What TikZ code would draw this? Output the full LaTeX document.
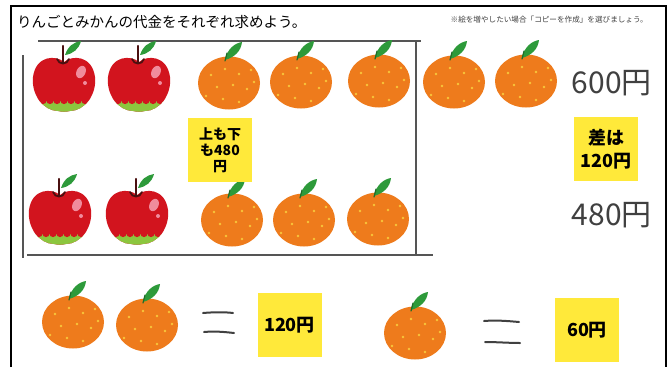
\documentclass[tikz,border=0pt]{standalone}
\usepackage{fontspec}
\newfontfamily\jp{Noto Sans CJK JP}
\definecolor{applered}{HTML}{D2141E}
\definecolor{applegreen}{HTML}{8CC63E}
\definecolor{stembrown}{HTML}{4A1010}
\definecolor{leafgreen}{HTML}{2D9A3A}
\definecolor{leafdark}{HTML}{1E6B28}
\definecolor{mikan}{HTML}{EE7B1C}
\definecolor{mikandot}{HTML}{F9C53A}
\definecolor{memo}{HTML}{FFE93A}
\definecolor{rulegray}{HTML}{555555}
\definecolor{ink}{HTML}{404040}
\definecolor{shine}{HTML}{F08C9C}
\tikzset{
  frame/.style={line width=2.5pt, black},
  tableline/.style={line width=2pt, rulegray},
  eqstroke/.style={line width=2pt, ink, line cap=round},
  memo/.style={fill=memo, inner sep=0pt, minimum width=64pt, minimum height=64pt,
    align=center, text=black},
  bigprice/.style={font=\jp\fontsize{30}{30}\selectfont, text=ink, anchor=east, inner sep=0pt},
  apple/.pic={
    \begin{scope}
      \path[clip] (0,-21) .. controls (-8,-28) and (-28,-28) .. (-31,-6)
        .. controls (-33,12) and (-20,28) .. (-6,28)
        .. controls (-2,29) and (2,29) .. (6,28)
        .. controls (20,28) and (33,12) .. (31,-6)
        .. controls (28,-28) and (8,-28) .. (0,-21) -- cycle;
      \fill[applered] (-35,-35) rectangle (35,35);
      \fill[applegreen] (-35,18) rectangle (35,35);
      \foreach \i in {-28,-21,...,28} \fill[applered] (\i,17.5) circle (3.6pt);
    \end{scope}
    \fill[shine, rotate around={-25:(17,-11)}] (17,-11) ellipse [x radius=4.5pt, y radius=6.5pt];
    \fill[shine] (21,0) circle (2pt);
    \fill[leafgreen] (1,-28) .. controls (4,-37) and (10,-41) .. (17,-42)
      .. controls (15,-34) and (9,-29) .. (1,-28) -- cycle;
    \draw[stembrown, line width=2.2pt, line cap=round] (-1,-37) -- (-1,-20);
    \draw[stembrown, line width=1.8pt, line cap=round] (-7,-24) .. controls (-5,-18) and (3,-18) .. (5,-24);
  },
  mikan/.pic={
    \fill[mikan] (0,0) ellipse [x radius=31pt, y radius=26.5pt];
    \foreach \a/\b in {-18/-8, -4/-14, 10/-9, 22/-13, -12/4, 4/2, 18/6, -23/13, -6/16, 10/19, 25/-1}
      \fill[mikandot] (\a,\b) circle (1.3pt);
    \fill[leafgreen] (-4,-23) .. controls (-2,-34) and (6,-40) .. (13,-41)
      .. controls (12,-32) and (6,-26) .. (-4,-23) -- cycle;
    \draw[leafdark, line width=1.2pt, line cap=round] (-4,-22) -- (-2,-30);
  }
}
\begin{document}
\begin{tikzpicture}[x=1pt, y=-1pt]
  \useasboundingbox[fill=white] (0,0) rectangle (671,367);

  % outer sheet border, open at the bottom
  \draw[frame] (11,367) -- (11,6) -- (666,6) -- (666,367);

  % heading and hint
  \node[anchor=west, inner sep=0pt, text=black, font=\jp\fontsize{14.5}{14.5}\selectfont] (title) at (17,22)
    {りんごとみかんの代金をそれぞれ求めよう。};
  \node[anchor=east, inner sep=0pt, text=ink, font=\jp\fontsize{7.6}{8}\selectfont] (hint) at (648,20)
    {※絵を増やしたい場合「コピーを作成」を選びましょう。};

  % table frame around the two rows
  \draw[tableline] (38,41) -- (421,41);
  \draw[tableline] (416,41) -- (416,255);
  \draw[tableline] (27,255) -- (433,255);
  \draw[tableline] (23,55) -- (23,258);

  % upper row: 2 apples + 5 mikans
  \pic at (64,83) {apple};
  \pic at (139,83) {apple};
  \pic at (229,83) {mikan};
  \pic at (301,82) {mikan};
  \pic at (379,81) {mikan};
  \pic at (454,82) {mikan};
  \pic at (526,81) {mikan};

  % lower row: 2 apples + 3 mikans
  \pic at (60,216) {apple};
  \pic at (137,216) {apple};
  \pic at (232,220) {mikan};
  \pic at (304,220) {mikan};
  \pic at (378,219) {mikan};

  % totals
  \node[bigprice] (top) at (652,83) {600円};
  \node[bigprice] (bottom) at (652,215) {480円};

  % sticky notes
  \node[memo, font=\jp\bfseries\fontsize{14}{16}\selectfont] (same) at (220,150) {上も下\\も480\\円};
  \node[memo, font=\jp\bfseries\fontsize{18}{23}\selectfont] (diff) at (606,149) {差は\\120円};

  % answers
  \pic at (73,322) {mikan};
  \pic at (147,325) {mikan};
  \draw[eqstroke] (203,313) .. controls (215,312) and (225,312) .. (233,313);
  \draw[eqstroke] (204,332) .. controls (215,331) and (225,332) .. (234,333);
  \node[memo, font=\jp\bfseries\fontsize{18}{18}\selectfont] (two) at (289.5,325) {120円};

  \pic at (415,333) {mikan};
  \draw[eqstroke] (484,321) .. controls (496,320) and (508,321) .. (519,322);
  \draw[eqstroke] (485,342) .. controls (497,342) and (509,343) .. (520,343);
  \node[memo, font=\jp\bfseries\fontsize{18}{18}\selectfont] (one) at (587,330) {60円};
\end{tikzpicture}
\end{document}
